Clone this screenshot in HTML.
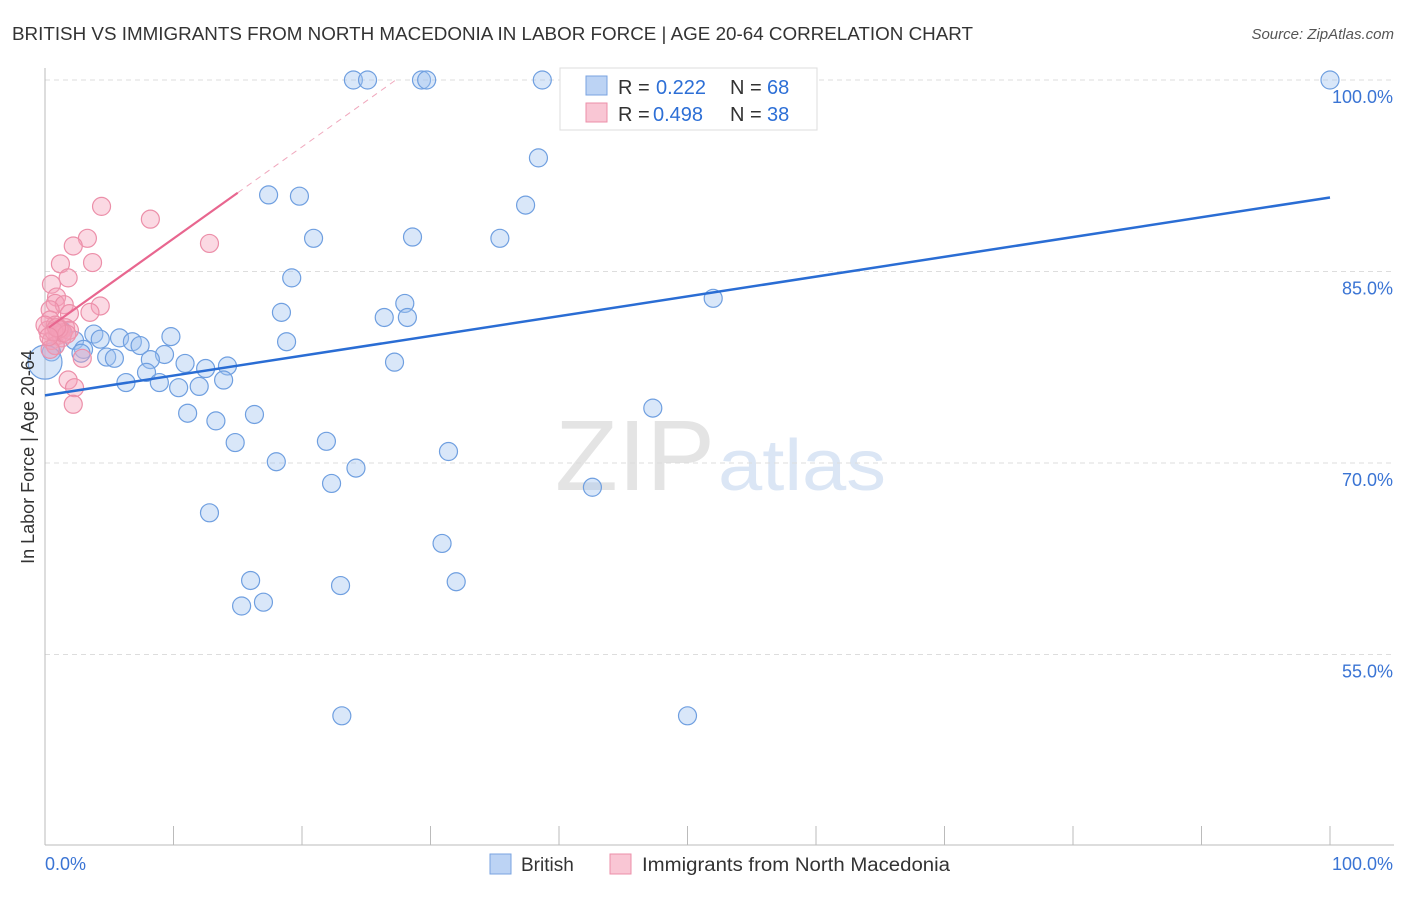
<!DOCTYPE html>
<html><head><meta charset="utf-8"><style>
body{margin:0;background:#fff;font-family:"Liberation Sans",sans-serif;}
svg text{font-family:"Liberation Sans",sans-serif;}
</style></head><body>
<svg id="chart" width="1406" height="892" xmlns="http://www.w3.org/2000/svg">
<text x="12" y="40" font-size="18" fill="#333" textLength="961" lengthAdjust="spacingAndGlyphs">BRITISH VS IMMIGRANTS FROM NORTH MACEDONIA IN LABOR FORCE | AGE 20-64 CORRELATION CHART</text>
<text x="1394" y="39" font-size="15" fill="#555" font-style="italic" text-anchor="end">Source: ZipAtlas.com</text>
<text x="555" y="490" font-size="100" fill="#e4e4e4" textLength="160" lengthAdjust="spacingAndGlyphs" font-family="Liberation Serif">ZIP</text>
<text x="718" y="490" font-size="72" fill="#dbe6f5" textLength="168" lengthAdjust="spacingAndGlyphs">atlas</text>
<g id="grid"></g><g id="axes"></g><g id="marks"></g>
<text transform="translate(34,457) rotate(-90)" font-size="18" fill="#333" text-anchor="middle">In Labor Force | Age 20-64</text>
<text x="45" y="870" font-size="18" fill="#3a74d4">0.0%</text>
<text x="1393" y="870" font-size="18" fill="#3a74d4" text-anchor="end">100.0%</text>
<g>
<rect x="560" y="68" width="257" height="62" fill="#fff" stroke="#ddd"/>
<rect x="586" y="76" width="21" height="19" fill="#bcd3f4" stroke="#7aa3e0"/>
<text x="618" y="94" font-size="20" fill="#333">R =</text>
<text x="656" y="94" font-size="20" fill="#2d6fd6">0.222</text>
<text x="730" y="94" font-size="20" fill="#333">N =</text>
<text x="767" y="94" font-size="20" fill="#2d6fd6">68</text>
<rect x="586" y="103" width="21" height="19" fill="#f9c6d4" stroke="#ec8fa9"/>
<text x="618" y="121" font-size="20" fill="#333">R =</text>
<text x="653" y="121" font-size="20" fill="#2d6fd6">0.498</text>
<text x="730" y="121" font-size="20" fill="#333">N =</text>
<text x="767" y="121" font-size="20" fill="#2d6fd6">38</text>
</g>
<g>
<rect x="490" y="854" width="21" height="20" fill="#bcd3f4" stroke="#7aa3e0"/>
<text x="521" y="871" font-size="19" fill="#333">British</text>
<rect x="610" y="854" width="21" height="20" fill="#f9c6d4" stroke="#ec8fa9"/>
<text x="642" y="871" font-size="19" fill="#333" textLength="308" lengthAdjust="spacingAndGlyphs">Immigrants from North Macedonia</text>
</g>
</svg>
<script>
const yTicks=[100,85,70,55];
const yTickLabels=["100.0%","85.0%","70.0%","55.0%"];
const xTicks=[0,10,20,30,40,50,60,70,80,90,100];
const britishX=[24.0,25.1,29.3,29.7,38.7,47.9,100,38.4,17.4,19.8,37.4,20.9,28.6,35.4,19.2,52.0,28.0,18.4,26.4,28.2,18.8,3.8,5.8,9.8,4.3,6.8,7.4,2.3,3.0,2.8,4.8,5.4,9.3,8.2,27.2,12.5,14.2,10.9,7.9,6.3,8.9,10.4,12.0,13.9,47.3,11.1,16.3,13.3,21.9,14.8,31.4,18.0,24.2,22.3,42.6,12.8,30.9,16.0,32.0,23.0,15.3,17.0,23.1,50.0,0.8,1.3,0.5,0];
const britishY=[100,100,100,100,100,100,100,93.9,91.0,90.9,90.2,87.6,87.7,87.6,84.5,82.9,82.5,81.8,81.4,81.4,79.5,80.1,79.8,79.9,79.7,79.5,79.2,79.6,78.9,78.6,78.3,78.2,78.5,78.1,77.9,77.4,77.6,77.8,77.1,76.3,76.3,75.9,76.0,76.5,74.3,73.9,73.8,73.3,71.7,71.6,70.9,70.1,69.6,68.4,68.1,66.1,63.7,60.8,60.7,60.4,58.8,59.1,50.2,50.2,79.2,80.4,78.7,77.9];
const macX=[4.4,8.2,12.8,3.3,2.2,3.7,1.2,1.8,0.5,0.9,4.3,0.8,1.5,3.5,1.9,0.4,0.4,0.2,0.8,1.2,1.6,1.0,0.5,1.3,0.8,2.9,1.8,2.3,2.2,0.4,0,1.9,1.4,1.1,0.7,1.7,0.9,0.3];
const macY=[90.1,89.1,87.2,87.6,87.0,85.7,85.6,84.5,84.0,83.0,82.3,82.5,82.4,81.8,81.7,82.0,81.2,80.4,80.8,80.4,80.6,80.0,79.6,79.8,79.2,78.2,76.5,75.9,74.6,78.9,80.8,80.4,80.2,80.5,80.3,80.1,80.6,79.9];
const blueLine=[75.3,90.8];
const pinkLine=[80.4,0.718];

const NS="http://www.w3.org/2000/svg";
const X=v=>45+v*12.85;
const Y=v=>80+(100-v)*12.767;
function mk(p,t,a){const e=document.createElementNS(NS,t);for(const k in a)e.setAttribute(k,a[k]);document.getElementById(p).appendChild(e);return e;}
yTicks.forEach((t,i)=>{
 const l=mk('grid','line',{x1:45,x2:1394,y1:Y(t),y2:Y(t),stroke:'#ddd','stroke-dasharray':'5,4'});
 
 
 const tx=mk('grid','text',{x:1393,y:Y(t)+23,'font-size':18,fill:'#3a74d4','text-anchor':'end'});
 tx.textContent=yTickLabels[i];
 
 
});
const ya=mk('axes','line',{x1:45,x2:45,y1:68,y2:845,stroke:'#bbb'});


const xa=mk('axes','line',{x1:45,x2:1394,y1:845,y2:845,stroke:'#bbb'});


xTicks.forEach(t=>{
 const l=mk('axes','line',{x1:X(t),x2:X(t),y1:826,y2:845,stroke:'#bbb'});
 
 
});
britishX.forEach((v,i)=>{
 const c=mk('marks','circle',{cx:X(v),cy:Y(britishY[i]),r:i===britishX.length-1?17:9,fill:'rgba(160,194,240,0.4)',stroke:'#6f9fe0','stroke-width':1.2});
 
 
});
macX.forEach((v,i)=>{
 const c=mk('marks','circle',{cx:X(v),cy:Y(macY[i]),r:9,fill:'rgba(245,160,185,0.4)',stroke:'#ec8fa9','stroke-width':1.2});
 
 
});
const bl=mk('marks','line',{x1:X(0),y1:Y(blueLine[0]),x2:X(100),y2:Y(blueLine[1]),stroke:'#2a6dd4','stroke-width':2.5});


const pEnd=(100-pinkLine[0])/pinkLine[1];
const pl=mk('marks','line',{x1:X(0.3),y1:Y(pinkLine[0]+0.3*pinkLine[1]),x2:X(15),y2:Y(pinkLine[0]+15*pinkLine[1]),stroke:'#e8668f','stroke-width':2.2});


const pd=mk('marks','line',{x1:X(15),y1:Y(pinkLine[0]+15*pinkLine[1]),x2:X(pEnd),y2:Y(100),stroke:'#f0a8bd','stroke-width':1,'stroke-dasharray':'6,5'});


</script>
</body></html>
